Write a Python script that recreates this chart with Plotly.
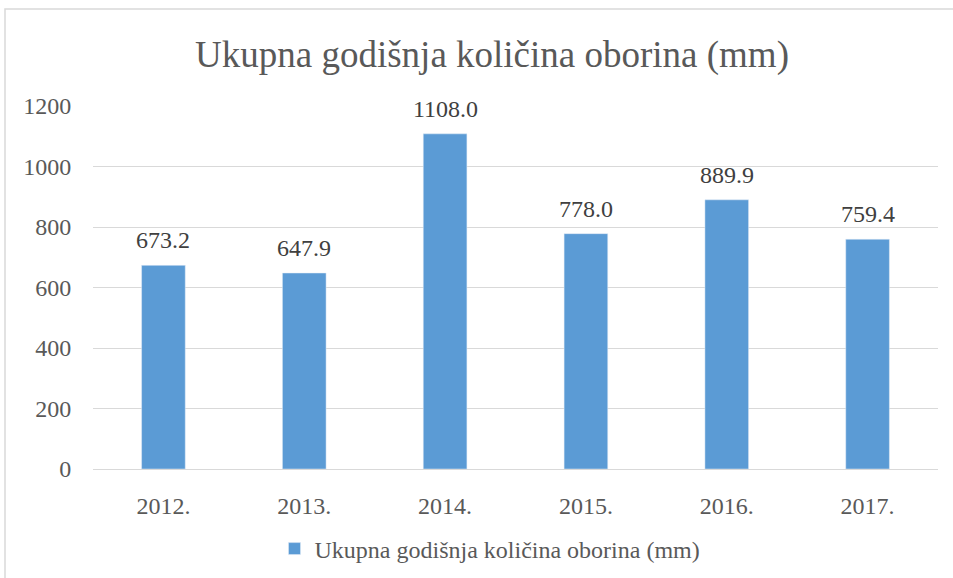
import plotly.graph_objects as go

years = ["2012.", "2013.", "2014.", "2015.", "2016.", "2017."]
values = [673.2, 647.9, 1108.0, 778.0, 889.9, 759.4]
y_ticks = [0, 200, 400, 600, 800, 1000, 1200]
series_name = "Ukupna godišnja količina oborina (mm)"
title_text = "Ukupna godišnja količina oborina (mm)"

FONT = "Liberation Serif, Times New Roman, serif"
GRAY = "#595959"

fig = go.Figure()
fig.add_trace(go.Bar(
    x=years, y=values, name=series_name,
    marker=dict(color="#5B9BD5"),
))

for i, v in enumerate(values):
    fig.add_annotation(x=i, y=v, text=f"{v:.1f}", showarrow=False,
                       yanchor="bottom", yshift=10,
                       font=dict(family=FONT, size=24, color="#404040"))

fig.update_layout(
    width=953, height=578,
    margin=dict(l=93, r=15, t=106, b=109, autoexpand=False),
    paper_bgcolor="white", plot_bgcolor="white",
    bargap=0.69,
    showlegend=True,
    title=dict(text=title_text, x=492 / 953, xanchor="center", y=1 - 54 / 578, yanchor="middle",
               font=dict(family=FONT, size=37, color=GRAY)),
    legend=dict(orientation="h", x=(490 - 93) / 845, xanchor="center", y=(469 - 549) / 363,
                yanchor="middle", font=dict(family=FONT, size=24, color=GRAY)),
    xaxis=dict(type="category", tickfont=dict(family=FONT, size=24, color=GRAY), showgrid=False,
               ticks="outside", ticklen=15, tickcolor="rgba(0,0,0,0)",
               showline=True, linecolor="#D9D9D9", linewidth=1),
    yaxis=dict(range=[0, 1200], tickvals=y_ticks, tickfont=dict(family=FONT, size=24, color=GRAY),
               showgrid=True, gridcolor="#D9D9D9", gridwidth=1, zeroline=False,
               ticks="outside", ticklen=16, tickcolor="rgba(0,0,0,0)"),
    shapes=[dict(type="rect", xref="paper", yref="paper",
                 x0=(5 - 93) / 845, x1=1.2, y0=-0.4, y1=(469 - 9) / 363,
                 line=dict(color="#D9D9D9", width=1.5), fillcolor="rgba(0,0,0,0)", layer="below")],
)

fig.write_html("out.html", config={"displayModeBar": False},
               post_script="document.body.style.margin='0';")
